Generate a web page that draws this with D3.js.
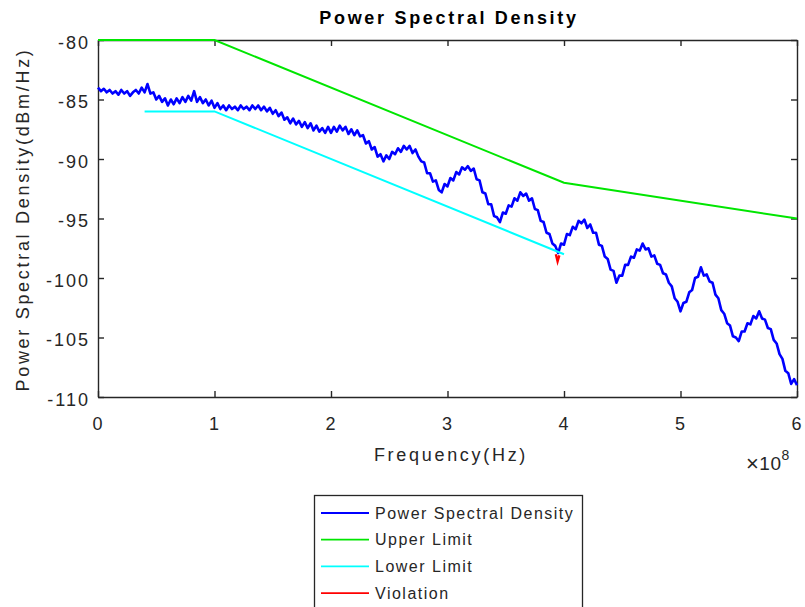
<!DOCTYPE html>
<html>
<head>
<meta charset="utf-8">
<script src="https://cdn.jsdelivr.net/npm/d3@7/dist/d3.min.js"></script>
<style>
  html, body { margin: 0; padding: 0; background: #fff; }
  svg { display: block; font-family: "Liberation Sans", Arial, Helvetica, sans-serif; }
</style>
</head>
<body>
<svg id="chart" width="805" height="607"></svg>
<script>
// Frequency grid for the measured PSD (units of 1e8 Hz)
const psdStart = 0;
const psdStep = 0.025;

// Measured power spectral density, dBm/Hz, one value per grid point
const psdValues = [
  -84.0, -84.3, -84.1, -84.4, -84.2, -84.5, -84.3, -84.6, -84.2, -84.5,
  -84.3, -84.7, -84.4, -84.2, -84.5, -84.0, -84.4, -83.7, -84.5, -84.4,
  -85.0, -84.7, -85.2, -84.9, -85.5, -85.0, -85.4, -84.9, -85.3, -84.8,
  -85.2, -84.7, -85.1, -84.3, -85.2, -84.8, -85.3, -85.0, -85.5, -85.1,
  -85.7, -85.3, -85.8, -85.5, -85.9, -85.5, -85.8, -85.6, -85.9, -85.5,
  -85.8, -85.6, -85.9, -85.5, -85.8, -85.5, -85.9, -85.6, -86.0, -85.7,
  -86.2, -85.9, -86.4, -86.1, -86.7, -86.5, -87.0, -86.6, -87.1, -86.8,
  -87.3, -86.9, -87.4, -87.0, -87.6, -87.2, -87.7, -87.4, -87.8, -87.3,
  -87.8, -87.3, -87.7, -87.2, -87.6, -87.3, -87.9, -87.5, -88.0, -87.6,
  -88.1, -88.0, -88.7, -88.5, -89.2, -89.0, -89.8, -89.6, -90.2, -89.7,
  -90.0, -89.4, -89.6, -89.1, -89.4, -88.9, -89.2, -88.9, -89.5, -89.2,
  -89.8, -90.2, -90.3, -91.2, -91.2, -91.9, -91.8, -92.6, -92.8, -92.1,
  -92.3, -91.6, -91.8, -91.1, -91.3, -90.7, -90.9, -90.6, -91.0, -90.8,
  -91.7, -91.8, -92.8, -92.9, -93.8, -93.8, -94.8, -94.9, -95.3, -94.5,
  -94.6, -93.9, -94.0, -93.3, -93.5, -92.8, -93.1, -92.9, -93.5, -93.3,
  -94.2, -94.3, -95.2, -95.3, -96.2, -96.3, -97.1, -97.3, -97.9, -97.1,
  -97.2, -96.3, -96.4, -95.7, -95.9, -95.2, -95.4, -95.1, -95.8, -95.5,
  -96.2, -96.2, -97.2, -97.3, -98.2, -98.4, -99.3, -99.4, -100.4, -99.8,
  -99.8, -98.9, -98.9, -98.2, -98.3, -97.6, -97.7, -97.1, -97.6, -97.5,
  -98.2, -98.1, -98.8, -98.9, -99.6, -99.7, -100.4, -100.7, -101.7, -102.0,
  -102.8, -102.1, -102.0, -101.2, -101.0, -100.0, -99.9, -99.1, -99.8, -99.7,
  -100.3, -100.4, -101.4, -101.7, -102.7, -103.0, -103.8, -104.0, -104.9, -105.0,
  -105.3, -104.5, -104.5, -103.8, -103.9, -103.2, -103.4, -102.8, -103.4, -103.5,
  -104.2, -104.3, -105.2, -105.5, -106.4, -106.8, -107.8, -108.0, -108.9, -108.5,
  -109.0
];

// Mask limits, [frequency (1e8 Hz), dBm/Hz]
const upperLimit = [[0, -80], [1, -80], [4, -92], [6, -95]];
const lowerLimit = [[0.4, -86], [1, -86], [4, -98]];

// PSD samples that fall below the lower limit
const violation = [[3.93, -98.0], [3.945, -98.6], [3.96, -98.1]];

// Axis ticks
const xTicks = [0, 1, 2, 3, 4, 5, 6];
const yTicks = [-80, -85, -90, -95, -100, -105, -110];

// Legend entries
const legendNames = ["Power Spectral Density", "Upper Limit", "Lower Limit", "Violation"];
const legendColors = ["#0000ff", "#00e600", "#00ffff", "#ff0000"];

const ink = "#262626";
const svg = d3.select("#chart");

const plot = { left: 98, right: 797, top: 40, bottom: 397 };
const x = d3.scaleLinear().domain([0, 6]).range([plot.left, plot.right]);
const y = d3.scaleLinear().domain([-110, -80]).range([plot.bottom, plot.top]);

const psd = psdValues.map((v, i) => [psdStart + i * psdStep, v]);

// Axes: ticks inward on all four sides, box outline
const tickLen = 6;
const fmt = d => String(d);

const bottomAxis = d3.axisBottom(x).tickValues(xTicks).tickSizeInner(-tickLen).tickSizeOuter(0).tickPadding(20).tickFormat(fmt);
const topAxis = d3.axisTop(x).tickValues(xTicks).tickSizeInner(-tickLen).tickSizeOuter(0).tickFormat("");
const leftAxis = d3.axisLeft(y).tickValues(yTicks).tickSizeInner(-tickLen).tickSizeOuter(0).tickPadding(8).tickFormat(fmt);
const rightAxis = d3.axisRight(y).tickValues(yTicks).tickSizeInner(-tickLen).tickSizeOuter(0).tickFormat("");

function styleAxis(sel) {
  sel.select(".domain").attr("stroke", ink).attr("stroke-width", 1.4);
  sel.selectAll(".tick line").attr("stroke", ink).attr("stroke-width", 1.4);
  sel.selectAll(".tick text").attr("fill", ink)
    .style("font-size", "18px").style("letter-spacing", "2px")
    .style("font-family", "'Liberation Sans', Arial, sans-serif");
}

svg.append("g").attr("transform", `translate(0,${plot.bottom})`).call(bottomAxis).call(styleAxis);
svg.append("g").attr("transform", `translate(0,${plot.top})`).call(topAxis).call(styleAxis);
svg.append("g").attr("transform", `translate(${plot.left},0)`).call(leftAxis).call(styleAxis)
  .selectAll(".tick text").attr("dy", "0.45em");
svg.append("g").attr("transform", `translate(${plot.right},0)`).call(rightAxis).call(styleAxis);

// Data lines, clipped to the axes box (with a little slack so edge lines stay visible)
svg.append("defs").append("clipPath").attr("id", "plotClip")
  .append("rect")
  .attr("x", plot.left - 2).attr("y", plot.top - 2)
  .attr("width", plot.right - plot.left + 4).attr("height", plot.bottom - plot.top + 4);

const line = d3.line().x(d => x(d[0])).y(d => y(d[1]));
const g = svg.append("g").attr("clip-path", "url(#plotClip)");

g.append("path").datum(psd)
  .attr("fill", "none").attr("stroke", legendColors[0])
  .attr("stroke-width", 2.6).attr("stroke-linejoin", "round")
  .attr("d", line);
g.append("path").datum(upperLimit)
  .attr("fill", "none").attr("stroke", legendColors[1])
  .attr("stroke-width", 2).attr("d", line);
g.append("path").datum(lowerLimit)
  .attr("fill", "none").attr("stroke", legendColors[2])
  .attr("stroke-width", 2).attr("d", line);
g.append("path").datum(violation)
  .attr("fill", "none").attr("stroke", legendColors[3])
  .attr("stroke-width", 2.4).attr("d", line);

// Title and axis labels
svg.append("text")
  .attr("x", 449).attr("y", 24)
  .attr("text-anchor", "middle").attr("fill", "#000")
  .style("font-size", "18px").style("font-weight", "bold").style("letter-spacing", "2.7px")
  .text("Power Spectral Density");

svg.append("text")
  .attr("x", 451).attr("y", 461)
  .attr("text-anchor", "middle").attr("fill", ink)
  .style("font-size", "18px").style("letter-spacing", "2.7px")
  .text("Frequency(Hz)");

svg.append("text")
  .attr("transform", `translate(29,${(plot.top + plot.bottom) / 2 + 1}) rotate(-90)`)
  .attr("text-anchor", "middle").attr("fill", ink)
  .style("font-size", "18px").style("letter-spacing", "2.7px")
  .text("Power Spectral Density(dBm/Hz)");

// Exponent label for the frequency axis
const expo = svg.append("text")
  .attr("x", 746).attr("y", 470)
  .attr("fill", ink)
  .style("font-size", "19px").style("letter-spacing", "0.5px");
expo.append("tspan").style("font-size", "22px").attr("dy", 1).text("\u00d7");
expo.append("tspan").attr("dy", -1).text("10");
expo.append("tspan").attr("dy", -10).style("font-size", "14px").text("8");

// Legend
const leg = svg.append("g");
leg.append("rect")
  .attr("x", 314.5).attr("y", 495.5).attr("width", 268).attr("height", 120)
  .attr("fill", "#fff").attr("stroke", ink).attr("stroke-width", 1.3);
legendNames.forEach((name, i) => {
  const yy = 513 + i * 26.7;
  leg.append("line")
    .attr("x1", 321).attr("x2", 369).attr("y1", yy).attr("y2", yy)
    .attr("stroke", legendColors[i]).attr("stroke-width", 1.8);
  leg.append("text")
    .attr("x", 375).attr("y", yy + 5.5)
    .attr("fill", ink).style("font-size", "16px").style("letter-spacing", "1.5px")
    .text(name);
});
</script>
</body>
</html>
